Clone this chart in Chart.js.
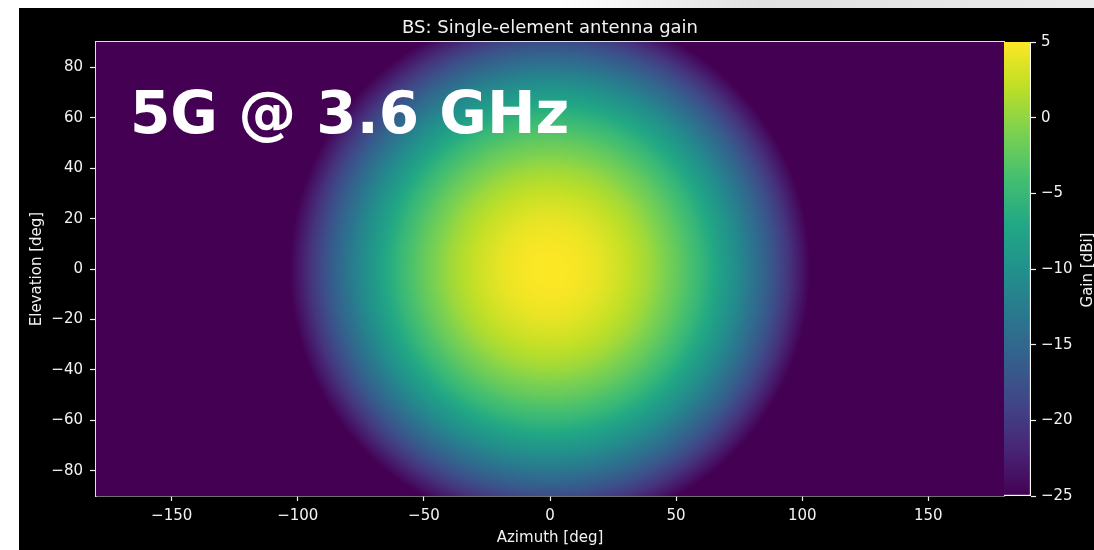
<!DOCTYPE html>
<html><head><meta charset="utf-8">
<script src="https://cdn.jsdelivr.net/npm/chart.js@4.4.1/dist/chart.umd.min.js"></script>
<style>
html,body{margin:0;padding:0;background:#fff;width:1094px;height:550px;overflow:hidden;font-family:'DejaVu Sans',sans-serif;}
#topstrip{position:absolute;left:0;top:0;width:1094px;height:8px;background:linear-gradient(to right,#ffffff 0px,#ffffff 560px,#e0e0e0 760px,#ececec 1094px);}
#panel{position:absolute;left:19px;top:8px;width:1075px;height:542px;background:#000;}
#main{position:absolute;left:0;top:0;}
#cbar{position:absolute;left:985px;top:0;}
#cblabel{position:absolute;left:968px;top:253px;width:200px;height:18px;line-height:18px;text-align:center;color:#f2f2f2;font:15px 'DejaVu Sans';transform:rotate(-90deg);}
#big{position:absolute;left:111px;top:76px;color:#fff;font:bold 58px 'DejaVu Sans';line-height:1;white-space:nowrap;}
</style></head><body>
<div id="topstrip"></div>
<div id="panel">
<canvas id="main" width="1075" height="542"></canvas>
<canvas id="cbar" width="90" height="542"></canvas>
<div id="cblabel">Gain [dBi]</div>
<div id="big">5G @ 3.6 GHz</div>
</div>
<script>
// ---- data ----
const azimuthTicks = [-150, -100, -50, 0, 50, 100, 150];
const elevationTicks = [-80, -60, -40, -20, 0, 20, 40, 60, 80];
const gainTicks = [-25, -20, -15, -10, -5, 0, 5];
// radial gain profile (angular distance from boresight [deg] -> gain [dBi])
const radiusDeg = [0, 5, 10, 15, 20, 25, 30, 35, 40, 45, 50, 55, 60, 65, 70, 75, 80, 85, 90, 95, 100, 103];
const gainDbi   = [5.0, 4.9, 4.7, 4.4, 3.9, 3.2, 2.4, 1.5, 0.5, -0.8, -2.1, -3.6, -5.2, -7.0, -8.9, -11.0, -13.2, -15.5, -18.0, -20.6, -23.4, -25.0];
const beamCenter = [{x: 0, y: 0}];
const coverRadius = 210; // deg, disc large enough to cover the whole plot
const gainMin = -25, gainMax = 5;

// viridis colormap
const VIR = ['#440154','#482475','#414487','#355f8d','#2a788e','#21918c','#22a884','#44bf70','#7ad151','#bddf26','#fde725'];
function hex(c){return [parseInt(c.slice(1,3),16),parseInt(c.slice(3,5),16),parseInt(c.slice(5,7),16)];}
function viridis(t){
  t = Math.max(0, Math.min(1, t));
  const p = t * (VIR.length - 1), i = Math.min(Math.floor(p), VIR.length - 2), f = p - i;
  const a = hex(VIR[i]), b = hex(VIR[i+1]);
  return 'rgb(' + a.map((v,k)=>Math.round(v + (b[k]-v)*f)).join(',') + ')';
}
const fmt = v => v < 0 ? '\u2212' + Math.abs(v) : String(v);
const FONT = {family: "'DejaVu Sans'", size: 15};
const TXT = '#f2f2f2';
const FRAME = '#e4dcea';

function mainConfig(radius, fill){
  return {
    type: 'bubble',
    data: {datasets: [{
      data: beamCenter, clip: 0, borderWidth: 0,
      backgroundColor: fill, radius: radius
    }]},
    options: {
      responsive: false, animation: false, events: [],
      layout: {autoPadding: false, padding: {left: 0, right: 90, top: 0, bottom: 0}},
      plugins: {
        legend: {display: false}, tooltip: {enabled: false},
        title: {display: true, text: 'BS: Single-element antenna gain', color: TXT, fullSize: false,
                font: {family: "'DejaVu Sans'", size: 18, weight: 'normal'}, padding: {top: 10, bottom: 2.5}}
      },
      scales: {
        x: {type: 'linear', min: -180, max: 180, position: 'bottom',
            afterBuildTicks: s => { s.ticks = azimuthTicks.map(v => ({value: v})); },
            afterFit: s => { s.height = 54; },
            ticks: {color: TXT, font: FONT, padding: 6, maxRotation: 0, autoSkip: false, callback: fmt},
            grid: {display: true, drawOnChartArea: false, drawTicks: true, tickLength: 5, tickWidth: 1.2, color: TXT},
            border: {display: true, color: FRAME, width: 1.5},
            title: {display: true, text: 'Azimuth [deg]', color: TXT, font: FONT, padding: {top: 0, bottom: 3}}},
        y: {type: 'linear', min: -90, max: 90, position: 'left',
            afterBuildTicks: s => { s.ticks = elevationTicks.map(v => ({value: v})); },
            afterFit: s => { s.width = 77; },
            ticks: {color: TXT, font: FONT, padding: 7, autoSkip: false, callback: fmt},
            grid: {display: true, drawOnChartArea: false, drawTicks: true, tickLength: 6, tickWidth: 1.2, color: TXT},
            border: {display: true, color: FRAME, width: 1.5},
            title: {display: true, text: 'Elevation [deg]', color: TXT, font: FONT, padding: {top: 9.5, bottom: 0}}},
        xTop: {type: 'linear', min: -180, max: 180, position: 'top',
            ticks: {display: false}, grid: {display: false, drawTicks: false},
            border: {display: true, color: FRAME, width: 1.5}}
      }
    }
  };
}

// 1) lay out once to read the scales, 2) rebuild with the disc sized/filled from them
const mainCanvas = document.getElementById('main');
let probe = new Chart(mainCanvas, mainConfig(0, VIR[0]));
const xs = probe.scales.x, ys = probe.scales.y;
const cx = xs.getPixelForValue(beamCenter[0].x), cy = ys.getPixelForValue(beamCenter[0].y);
const R = Math.abs(xs.getPixelForValue(coverRadius) - xs.getPixelForValue(0));
probe.destroy();
const grad = mainCanvas.getContext('2d').createRadialGradient(cx, cy, 0, cx, cy, R);
radiusDeg.forEach((r, i) => grad.addColorStop(r / coverRadius, viridis((gainDbi[i] - gainMin) / (gainMax - gainMin))));
new Chart(mainCanvas, mainConfig(R, grad));

function cbConfig(fill){
  return {
    type: 'bar',
    data: {labels: ['gain'], datasets: [{
      data: [[gainMin, gainMax]],
      backgroundColor: fill,
      borderColor: '#ffffff',
      borderWidth: {top: 0, left: 0, right: 1.5, bottom: 1.5},
      borderSkipped: false,
      barPercentage: 1, categoryPercentage: 1
    }]},
    options: {
      responsive: false, animation: false, events: [],
      layout: {padding: {left: 0, right: 0, top: 34, bottom: 54}},
      plugins: {legend: {display: false}, tooltip: {enabled: false}},
      scales: {
        x: {display: false},
        y: {type: 'linear', min: gainMin, max: gainMax, position: 'right',
            afterBuildTicks: s => { s.ticks = gainTicks.map(v => ({value: v})); },
            afterFit: s => { s.width = 63; },
            ticks: {color: TXT, font: FONT, padding: 5, autoSkip: false, callback: fmt},
            grid: {display: true, drawOnChartArea: false, drawTicks: true, tickLength: 5, tickWidth: 1.2, color: TXT},
            border: {display: false}}
      }
    }
  };
}
const cbCanvas = document.getElementById('cbar');
let cbProbe = new Chart(cbCanvas, cbConfig(VIR[5]));
const gy0 = cbProbe.scales.y.getPixelForValue(gainMin), gy1 = cbProbe.scales.y.getPixelForValue(gainMax);
cbProbe.destroy();
const cgrad = cbCanvas.getContext('2d').createLinearGradient(0, gy0, 0, gy1);
VIR.forEach((c, i) => cgrad.addColorStop(i / (VIR.length - 1), c));
new Chart(cbCanvas, cbConfig(cgrad));
</script>
</body></html>
